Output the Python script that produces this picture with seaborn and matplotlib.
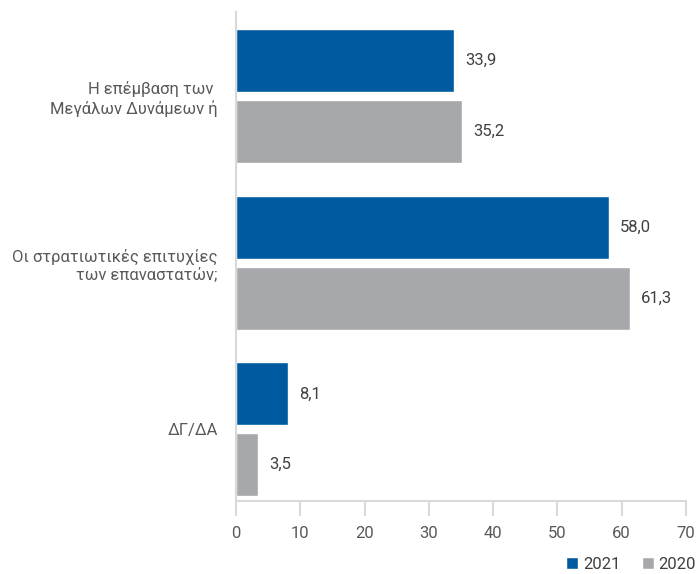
import matplotlib
matplotlib.use("Agg")
import matplotlib.pyplot as plt
import seaborn as sns
import pandas as pd
from matplotlib.patches import Patch

categories = ["Η επέμβαση των \nΜεγάλων Δυνάμεων ή", "Οι στρατιωτικές επιτυχίες\nτων επαναστατών;", "ΔΓ/ΔΑ"]
series_names = ["2021", "2020"]
values_2021 = [33.9, 58.0, 8.1]
values_2020 = [35.2, 61.3, 3.5]
xticks = [0, 10, 20, 30, 40, 50, 60, 70]

colors = {"2021": "#005AA0", "2020": "#A7A8AB"}
text_color = "#595959"

df = pd.DataFrame({
    "category": categories * 2,
    "year": ["2021"] * 3 + ["2020"] * 3,
    "value": values_2021 + values_2020,
})

sns.set_theme(style="white")
plt.rcParams["font.family"] = ["Roboto", "DejaVu Sans"]

fig = plt.figure(figsize=(6.96, 5.74), dpi=100)
ax = fig.add_axes([236 / 696, 73 / 574, 450 / 696, 489 / 574])

sns.barplot(data=df, x="value", y="category", hue="year", hue_order=series_names,
            order=categories, palette=colors, orient="h", width=0.85, gap=0.11,
            ax=ax, legend=False, saturation=1)

for cont in ax.containers:
    labels = [f"{v:.1f}".replace(".", ",") for v in cont.datavalues]
    ax.bar_label(cont, labels=labels, padding=8, fontsize=12, color="#404040")

ax.set_xlim(0, 70)
ax.set_ylim(2.43, -0.505)
ax.set_xticks(xticks)
ax.set_xticklabels([str(t) for t in xticks])
ax.set_xlabel("")
ax.set_ylabel("")

for s in ["top", "right"]:
    ax.spines[s].set_visible(False)
for s in ["left", "bottom"]:
    ax.spines[s].set_color("#D9D9D9")
    ax.spines[s].set_linewidth(1.5)

ax.tick_params(axis="x", direction="out", length=11, width=1.5, color="#D9D9D9",
               labelsize=12, labelcolor=text_color, pad=7, bottom=True)
ax.tick_params(axis="y", length=0, labelsize=12, labelcolor=text_color, pad=13)
for lbl in ax.get_yticklabels():
    lbl.set_horizontalalignment("right")
    lbl.set_multialignment("right")

handles = [Patch(facecolor=colors[n], label=n) for n in series_names]
fig.legend(handles=handles, loc="lower right", bbox_to_anchor=(1.0, 0.004), ncol=2,
           frameon=False, fontsize=12, handlelength=0.7, handleheight=0.7,
           handletextpad=0.3, columnspacing=1.3, labelcolor="#404040",
           borderaxespad=0.0, borderpad=0.0)

fig.savefig("out.png", dpi=100)
